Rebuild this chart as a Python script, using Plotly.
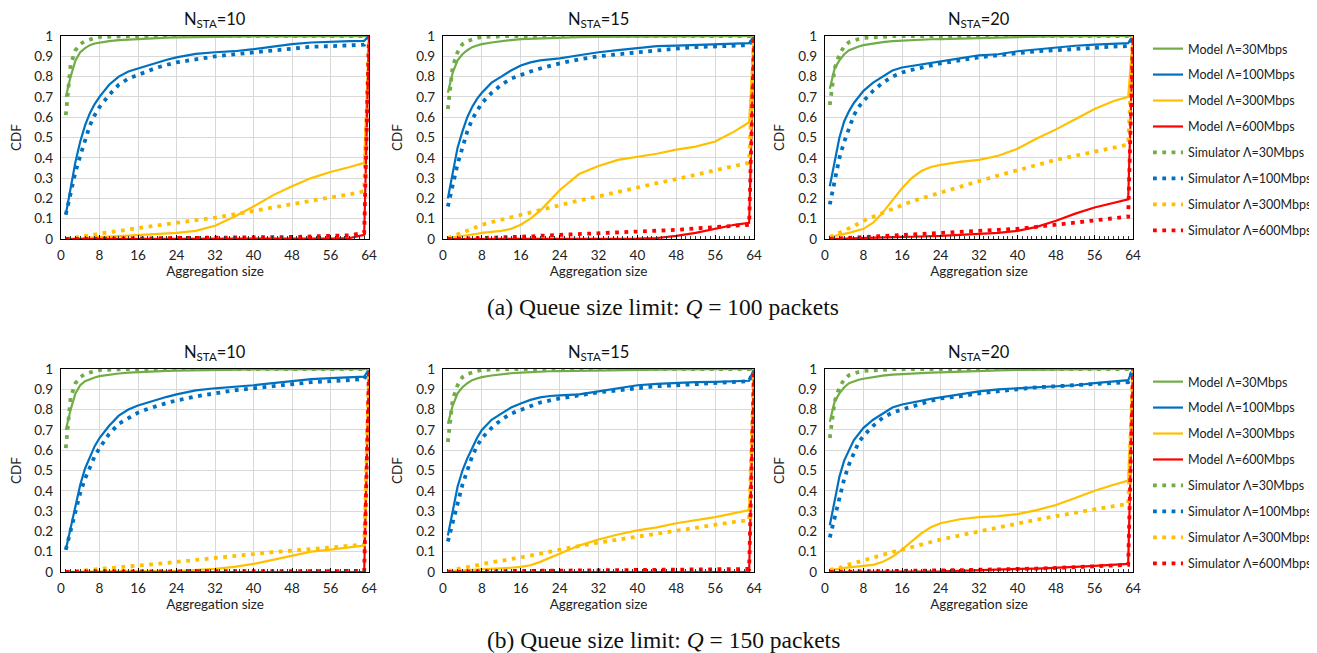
import plotly.graph_objects as go

# Aggregation sizes at which values were read
X = [1, 2, 3, 4, 5, 6, 7, 8, 10, 12, 14, 16, 18, 20, 22, 24, 28, 32, 36, 40, 44, 48, 52, 56, 60, 63, 64]

# ---- (a) Q = 100 packets ----
a10_m30 = [0.70, 0.80, 0.88, 0.92, 0.94, 0.955, 0.963, 0.968, 0.975, 0.98, 0.983, 0.985, 0.988, 0.99, 0.992, 0.993, 0.995, 0.996, 0.997, 0.998, 0.998, 0.999, 0.999, 0.999, 0.999, 0.999, 1.0]
a10_s30 = [0.61, 0.86, 0.93, 0.96, 0.975, 0.985, 0.99, 0.995, 0.997, 0.999, 1, 1, 1, 1, 1, 1, 1, 1, 1, 1, 1, 1, 1, 1, 1, 1, 1.0]
a10_m100 = [0.12, 0.25, 0.38, 0.48, 0.56, 0.62, 0.665, 0.70, 0.76, 0.80, 0.825, 0.84, 0.855, 0.87, 0.883, 0.895, 0.912, 0.92, 0.925, 0.935, 0.948, 0.96, 0.968, 0.973, 0.975, 0.976, 1.0]
a10_s100 = [0.12, 0.23, 0.33, 0.41, 0.49, 0.56, 0.61, 0.65, 0.71, 0.76, 0.79, 0.81, 0.83, 0.845, 0.858, 0.87, 0.885, 0.90, 0.91, 0.92, 0.93, 0.94, 0.947, 0.95, 0.955, 0.957, 1.0]
a10_m300 = [0.0, 0.002, 0.004, 0.005, 0.006, 0.007, 0.008, 0.01, 0.012, 0.014, 0.017, 0.02, 0.022, 0.024, 0.027, 0.03, 0.04, 0.065, 0.11, 0.16, 0.215, 0.26, 0.30, 0.33, 0.355, 0.375, 1.0]
a10_s300 = [0.0, 0.003, 0.006, 0.01, 0.013, 0.017, 0.022, 0.027, 0.034, 0.041, 0.048, 0.055, 0.061, 0.067, 0.074, 0.08, 0.093, 0.105, 0.122, 0.14, 0.157, 0.175, 0.19, 0.205, 0.22, 0.235, 1.0]
a10_m600 = [0, 0, 0, 0, 0, 0, 0, 0, 0, 0, 0, 0, 0, 0, 0, 0, 0, 0, 0, 0, 0, 0, 0, 0.002, 0.005, 0.02, 1.0]
a10_s600 = [0, 0, 0, 0.001, 0.001, 0.001, 0.002, 0.002, 0.002, 0.003, 0.003, 0.003, 0.004, 0.004, 0.004, 0.005, 0.005, 0.006, 0.007, 0.008, 0.009, 0.01, 0.012, 0.014, 0.018, 0.03, 1.0]

a15_m30 = [0.72, 0.82, 0.88, 0.91, 0.93, 0.945, 0.953, 0.96, 0.968, 0.975, 0.98, 0.985, 0.987, 0.989, 0.991, 0.992, 0.994, 0.996, 0.997, 0.998, 0.998, 0.999, 0.999, 0.999, 0.999, 0.999, 1.0]
a15_s30 = [0.64, 0.85, 0.92, 0.96, 0.975, 0.985, 0.99, 0.995, 0.998, 1, 1, 1, 1, 1, 1, 1, 1, 1, 1, 1, 1, 1, 1, 1, 1, 1, 1.0]
a15_m100 = [0.20, 0.33, 0.45, 0.53, 0.60, 0.65, 0.69, 0.72, 0.77, 0.80, 0.83, 0.855, 0.87, 0.88, 0.885, 0.89, 0.905, 0.92, 0.93, 0.94, 0.95, 0.953, 0.957, 0.96, 0.963, 0.965, 1.0]
a15_s100 = [0.16, 0.27, 0.37, 0.45, 0.53, 0.59, 0.63, 0.67, 0.72, 0.76, 0.79, 0.81, 0.825, 0.84, 0.853, 0.865, 0.885, 0.90, 0.91, 0.92, 0.93, 0.938, 0.945, 0.95, 0.953, 0.955, 1.0]
a15_m300 = [0.005, 0.008, 0.012, 0.015, 0.019, 0.022, 0.026, 0.03, 0.035, 0.04, 0.05, 0.07, 0.10, 0.14, 0.19, 0.24, 0.32, 0.36, 0.39, 0.405, 0.42, 0.44, 0.455, 0.48, 0.53, 0.575, 1.0]
a15_s300 = [0.005, 0.013, 0.022, 0.03, 0.04, 0.05, 0.06, 0.07, 0.083, 0.095, 0.108, 0.12, 0.133, 0.145, 0.158, 0.17, 0.19, 0.21, 0.233, 0.255, 0.275, 0.295, 0.318, 0.34, 0.36, 0.375, 1.0]
a15_m600 = [0, 0, 0, 0, 0, 0, 0, 0, 0, 0, 0, 0, 0, 0, 0, 0, 0, 0, 0, 0.002, 0.005, 0.015, 0.03, 0.05, 0.07, 0.08, 1.0]
a15_s600 = [0, 0, 0.001, 0.002, 0.002, 0.003, 0.004, 0.005, 0.006, 0.008, 0.009, 0.01, 0.013, 0.016, 0.018, 0.02, 0.022, 0.025, 0.03, 0.035, 0.04, 0.045, 0.052, 0.06, 0.066, 0.07, 1.0]

a20_m30 = [0.74, 0.84, 0.88, 0.91, 0.93, 0.94, 0.948, 0.955, 0.963, 0.97, 0.975, 0.978, 0.98, 0.982, 0.984, 0.985, 0.988, 0.99, 0.993, 0.995, 0.997, 0.998, 0.998, 0.999, 0.999, 0.999, 1.0]
a20_s30 = [0.66, 0.84, 0.91, 0.95, 0.97, 0.98, 0.985, 0.99, 0.994, 0.997, 0.999, 1, 1, 1, 1, 1, 1, 1, 1, 1, 1, 1, 1, 1, 1, 1, 1.0]
a20_m100 = [0.26, 0.38, 0.50, 0.58, 0.63, 0.67, 0.70, 0.73, 0.77, 0.80, 0.83, 0.845, 0.853, 0.86, 0.868, 0.875, 0.89, 0.905, 0.91, 0.925, 0.935, 0.945, 0.952, 0.958, 0.963, 0.965, 1.0]
a20_s100 = [0.17, 0.28, 0.40, 0.48, 0.55, 0.61, 0.65, 0.68, 0.73, 0.77, 0.80, 0.82, 0.833, 0.845, 0.855, 0.865, 0.88, 0.895, 0.905, 0.915, 0.925, 0.93, 0.937, 0.943, 0.948, 0.95, 1.0]
a20_m300 = [0.01, 0.014, 0.02, 0.025, 0.03, 0.036, 0.043, 0.05, 0.08, 0.13, 0.19, 0.25, 0.30, 0.335, 0.355, 0.365, 0.38, 0.39, 0.41, 0.445, 0.495, 0.54, 0.59, 0.64, 0.68, 0.70, 1.0]
a20_s300 = [0.01, 0.02, 0.03, 0.04, 0.05, 0.063, 0.077, 0.09, 0.11, 0.13, 0.15, 0.17, 0.185, 0.2, 0.215, 0.23, 0.258, 0.285, 0.313, 0.34, 0.365, 0.39, 0.41, 0.43, 0.45, 0.465, 1.0]
a20_m600 = [0, 0, 0.001, 0.001, 0.002, 0.003, 0.004, 0.005, 0.006, 0.007, 0.008, 0.01, 0.011, 0.012, 0.013, 0.015, 0.02, 0.025, 0.03, 0.04, 0.06, 0.09, 0.125, 0.155, 0.18, 0.195, 1.0]
a20_s600 = [0, 0.002, 0.003, 0.004, 0.005, 0.006, 0.008, 0.01, 0.012, 0.015, 0.018, 0.02, 0.023, 0.025, 0.028, 0.03, 0.035, 0.04, 0.045, 0.05, 0.06, 0.07, 0.08, 0.09, 0.1, 0.11, 1.0]

# ---- (b) Q = 150 packets ----
b10_m30 = [0.70, 0.80, 0.88, 0.92, 0.94, 0.95, 0.958, 0.965, 0.972, 0.978, 0.982, 0.985, 0.987, 0.989, 0.991, 0.992, 0.994, 0.996, 0.997, 0.998, 0.998, 0.999, 0.999, 0.999, 0.999, 0.999, 1.0]
b10_s30 = [0.61, 0.86, 0.93, 0.96, 0.975, 0.985, 0.99, 0.995, 0.998, 1, 1, 1, 1, 1, 1, 1, 1, 1, 1, 1, 1, 1, 1, 1, 1, 1, 1.0]
b10_m100 = [0.11, 0.22, 0.33, 0.43, 0.51, 0.57, 0.62, 0.66, 0.72, 0.77, 0.80, 0.82, 0.835, 0.85, 0.863, 0.875, 0.895, 0.905, 0.912, 0.92, 0.93, 0.94, 0.95, 0.955, 0.96, 0.962, 1.0]
b10_s100 = [0.11, 0.21, 0.30, 0.39, 0.46, 0.52, 0.57, 0.61, 0.68, 0.73, 0.76, 0.785, 0.803, 0.82, 0.833, 0.845, 0.865, 0.88, 0.895, 0.905, 0.915, 0.925, 0.935, 0.94, 0.945, 0.95, 1.0]
b10_m300 = [0, 0.001, 0.001, 0.001, 0.002, 0.002, 0.002, 0.003, 0.003, 0.003, 0.004, 0.004, 0.004, 0.005, 0.005, 0.005, 0.01, 0.015, 0.025, 0.04, 0.06, 0.08, 0.1, 0.11, 0.12, 0.13, 1.0]
b10_s300 = [0, 0.002, 0.003, 0.005, 0.006, 0.008, 0.01, 0.015, 0.019, 0.023, 0.026, 0.03, 0.035, 0.04, 0.045, 0.05, 0.06, 0.07, 0.08, 0.09, 0.098, 0.105, 0.113, 0.12, 0.128, 0.135, 1.0]
b10_m600 = [0, 0, 0, 0, 0, 0, 0, 0, 0, 0, 0, 0, 0, 0, 0, 0, 0, 0, 0, 0, 0, 0, 0, 0, 0, 0, 1.0]
b10_s600 = [0, 0.001, 0.001, 0.002, 0.002, 0.002, 0.002, 0.003, 0.003, 0.003, 0.003, 0.003, 0.003, 0.003, 0.004, 0.004, 0.004, 0.004, 0.004, 0.004, 0.005, 0.005, 0.005, 0.005, 0.005, 0.005, 1.0]

b15_m30 = [0.73, 0.82, 0.88, 0.91, 0.93, 0.945, 0.953, 0.96, 0.968, 0.975, 0.979, 0.982, 0.985, 0.987, 0.989, 0.99, 0.992, 0.994, 0.995, 0.996, 0.997, 0.998, 0.998, 0.999, 0.999, 0.999, 1.0]
b15_s30 = [0.64, 0.85, 0.92, 0.96, 0.975, 0.985, 0.99, 0.995, 0.998, 1, 1, 1, 1, 1, 1, 1, 1, 1, 1, 1, 1, 1, 1, 1, 1, 1, 1.0]
b15_m100 = [0.18, 0.30, 0.42, 0.50, 0.56, 0.61, 0.66, 0.70, 0.75, 0.78, 0.81, 0.83, 0.848, 0.86, 0.867, 0.87, 0.875, 0.89, 0.905, 0.92, 0.927, 0.932, 0.935, 0.937, 0.94, 0.942, 1.0]
b15_s100 = [0.15, 0.25, 0.35, 0.43, 0.50, 0.57, 0.62, 0.66, 0.71, 0.75, 0.78, 0.80, 0.82, 0.835, 0.845, 0.855, 0.87, 0.885, 0.895, 0.905, 0.915, 0.92, 0.925, 0.93, 0.935, 0.94, 1.0]
b15_m300 = [0.005, 0.006, 0.007, 0.008, 0.009, 0.01, 0.012, 0.015, 0.017, 0.019, 0.021, 0.025, 0.033, 0.05, 0.07, 0.09, 0.13, 0.16, 0.185, 0.205, 0.22, 0.24, 0.255, 0.27, 0.29, 0.305, 1.0]
b15_s300 = [0.005, 0.01, 0.015, 0.02, 0.025, 0.03, 0.035, 0.04, 0.048, 0.055, 0.063, 0.07, 0.08, 0.09, 0.1, 0.11, 0.128, 0.145, 0.16, 0.175, 0.19, 0.205, 0.22, 0.235, 0.247, 0.255, 1.0]
b15_m600 = [0, 0, 0, 0, 0, 0, 0, 0, 0, 0, 0, 0, 0, 0, 0, 0, 0, 0, 0, 0, 0, 0, 0, 0, 0, 0, 1.0]
b15_s600 = [0, 0, 0.001, 0.001, 0.002, 0.002, 0.003, 0.003, 0.004, 0.004, 0.005, 0.005, 0.006, 0.006, 0.007, 0.007, 0.008, 0.008, 0.009, 0.01, 0.011, 0.012, 0.013, 0.014, 0.015, 0.015, 1.0]

b20_m30 = [0.74, 0.84, 0.88, 0.91, 0.93, 0.94, 0.947, 0.952, 0.96, 0.967, 0.972, 0.975, 0.978, 0.98, 0.982, 0.983, 0.987, 0.99, 0.993, 0.995, 0.997, 0.998, 0.998, 0.999, 0.999, 0.999, 1.0]
b20_s30 = [0.66, 0.84, 0.91, 0.95, 0.97, 0.98, 0.985, 0.99, 0.994, 0.997, 0.999, 1, 1, 1, 1, 1, 1, 1, 1, 1, 1, 1, 1, 1, 1, 1, 1.0]
b20_m100 = [0.23, 0.36, 0.47, 0.55, 0.60, 0.65, 0.68, 0.71, 0.75, 0.78, 0.81, 0.825, 0.835, 0.845, 0.853, 0.86, 0.875, 0.89, 0.90, 0.905, 0.91, 0.915, 0.92, 0.93, 0.94, 0.945, 1.0]
b20_s100 = [0.17, 0.27, 0.38, 0.46, 0.53, 0.59, 0.64, 0.67, 0.72, 0.76, 0.785, 0.80, 0.815, 0.83, 0.843, 0.855, 0.865, 0.88, 0.89, 0.90, 0.91, 0.915, 0.92, 0.925, 0.93, 0.935, 1.0]
b20_m300 = [0.01, 0.012, 0.015, 0.02, 0.022, 0.025, 0.028, 0.03, 0.035, 0.05, 0.075, 0.11, 0.15, 0.19, 0.22, 0.24, 0.26, 0.27, 0.275, 0.285, 0.305, 0.33, 0.365, 0.40, 0.43, 0.45, 1.0]
b20_s300 = [0.01, 0.015, 0.02, 0.03, 0.037, 0.045, 0.053, 0.06, 0.073, 0.085, 0.098, 0.11, 0.123, 0.135, 0.148, 0.16, 0.18, 0.20, 0.22, 0.24, 0.258, 0.275, 0.293, 0.31, 0.325, 0.335, 1.0]
b20_m600 = [0, 0, 0, 0, 0, 0, 0, 0, 0, 0, 0, 0, 0, 0, 0, 0.003, 0.006, 0.01, 0.012, 0.015, 0.017, 0.02, 0.025, 0.03, 0.036, 0.04, 1.0]
b20_s600 = [0, 0.001, 0.001, 0.002, 0.002, 0.002, 0.003, 0.003, 0.004, 0.004, 0.005, 0.005, 0.006, 0.007, 0.008, 0.008, 0.009, 0.01, 0.012, 0.015, 0.017, 0.02, 0.024, 0.028, 0.032, 0.035, 1.0]

PANELS = [
    [a10_m30, a10_m100, a10_m300, a10_m600, a10_s30, a10_s100, a10_s300, a10_s600],
    [a15_m30, a15_m100, a15_m300, a15_m600, a15_s30, a15_s100, a15_s300, a15_s600],
    [a20_m30, a20_m100, a20_m300, a20_m600, a20_s30, a20_s100, a20_s300, a20_s600],
    [b10_m30, b10_m100, b10_m300, b10_m600, b10_s30, b10_s100, b10_s300, b10_s600],
    [b15_m30, b15_m100, b15_m300, b15_m600, b15_s30, b15_s100, b15_s300, b15_s600],
    [b20_m30, b20_m100, b20_m300, b20_m600, b20_s30, b20_s100, b20_s300, b20_s600],
]

SERIES_NAMES = ["Model Λ=30Mbps", "Model Λ=100Mbps", "Model Λ=300Mbps", "Model Λ=600Mbps",
                "Simulator Λ=30Mbps", "Simulator Λ=100Mbps", "Simulator Λ=300Mbps", "Simulator Λ=600Mbps"]
COLORS = ["#70AD47", "#0070C0", "#FFC000", "#FF0000"] * 2
PANEL_TITLES = ["N<sub>STA</sub>=10", "N<sub>STA</sub>=15", "N<sub>STA</sub>=20"] * 2
CAPTIONS = ["(a) Queue size limit: <i>Q</i> = 100 packets", "(b) Queue size limit: <i>Q</i> = 150 packets"]

# The page body has an 8px margin; size the figure so it fills the window
OFF = 8
W, H = 1317 - OFF, 653 - OFF
FONT = "Lato"
TXT = "#222"


def fx(px):  # reference-screen x pixel -> paper fraction
    return (px - OFF) / W


def fy(py):  # reference-screen y pixel -> paper fraction
    return 1 - (py - OFF) / H


# pixel layout (reference screen coordinates)
col_px = [(61, 369), (443, 754), (825, 1133)]
row_px = [(36, 239), (369, 572)]

fig = go.Figure()
layout = dict(width=W, height=H, margin=dict(l=0, r=0, t=0, b=0, autoexpand=False),
              template="none",
              plot_bgcolor="white", paper_bgcolor="white",
              font=dict(family=FONT, size=13, color=TXT), annotations=[])

for p in range(6):
    r, c = divmod(p, 3)
    ax = p + 1
    xa = "xaxis" if ax == 1 else f"xaxis{ax}"
    ya = "yaxis" if ax == 1 else f"yaxis{ax}"
    xref = "x" if ax == 1 else f"x{ax}"
    yref = "y" if ax == 1 else f"y{ax}"
    x0, x1 = col_px[c]
    y0, y1 = row_px[r]
    layout[xa] = dict(domain=[fx(x0), fx(x1)], anchor=yref, range=[0, 64], dtick=8, tick0=0,
                      automargin=False,
                      showgrid=True, gridcolor="#D9D9D9", gridwidth=1, zeroline=False,
                      showline=True, linecolor="black", linewidth=1.3, mirror=True,
                      ticks="inside", ticklen=4, tickcolor="black", tickwidth=1,
                      ticklabelstandoff=4,
                      minor=dict(dtick=1, ticks="inside", ticklen=3, tickcolor="#333", showgrid=False),
                      tickfont=dict(size=13.5, color=TXT),
                      title=dict(text="Aggregation size", font=dict(size=13.5, color=TXT), standoff=0))
    layout[ya] = dict(domain=[fy(y1), fy(y0)], anchor=xref, range=[0, 1], dtick=0.1, tick0=0,
                      automargin=False,
                      showgrid=True, gridcolor="#D9D9D9", gridwidth=1, zeroline=False,
                      showline=True, linecolor="black", linewidth=1.3, mirror=True,
                      ticks="", ticklabelstandoff=4, tickfont=dict(size=13.5, color=TXT),
                      title=dict(text="CDF", font=dict(size=13.5, color=TXT), standoff=10))
    layout["annotations"].append(dict(text=PANEL_TITLES[p], xref="paper", yref="paper",
                                      x=fx((x0 + x1) / 2), y=fy(y0 - 16),
                                      showarrow=False, font=dict(size=16.5, color="#111"),
                                      xanchor="center", yanchor="middle"))
    for k in range(8):
        model = k < 4
        fig.add_trace(go.Scatter(
            x=X, y=PANELS[p][k], mode="lines", name=SERIES_NAMES[k],
            xaxis=xref, yaxis=yref,
            line=dict(color=COLORS[k], width=2.2 if model else 3.8,
                      dash="solid" if model else "3.8px,5.5px"),
            legend="legend" if r == 0 else "legend2",
            legendgroup=f"r{r}k{k}",
            showlegend=(c == 2),
        ))

leg_common = dict(x=fx(1148), xanchor="left", yanchor="top", bgcolor="rgba(0,0,0,0)",
                  font=dict(family=FONT, size=12.5, color=TXT), tracegroupgap=6.7,
                  itemwidth=30)
layout["legend"] = dict(leg_common, y=fy(34))
layout["legend2"] = dict(leg_common, y=fy(367))

for i, cap in enumerate(CAPTIONS):
    layout["annotations"].append(dict(text=cap, xref="paper", yref="paper",
                                      x=fx(663), y=fy(307 if i == 0 else 640),
                                      showarrow=False, xanchor="center", yanchor="middle",
                                      font=dict(family="Liberation Serif", size=23.5, color="#111")))

fig.update_layout(**layout)
fig.write_html("out.html")
